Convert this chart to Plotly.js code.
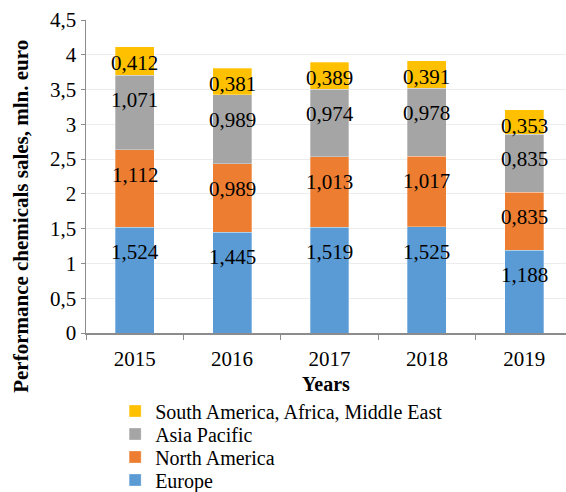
<!DOCTYPE html>
<html>
<head>
<meta charset="utf-8">
<script src="https://cdn.plot.ly/plotly-3.0.1.min.js"></script>
<style>html,body{margin:0;padding:0;background:#fff;}#chart{width:566px;height:492px;}</style>
</head>
<body>
<div id="chart"></div>
<script>
const years = ['2015', '2016', '2017', '2018', '2019'];
const europe = [1.524, 1.445, 1.519, 1.525, 1.188];
const northAmerica = [1.112, 0.989, 1.013, 1.017, 0.835];
const asiaPacific = [1.071, 0.989, 0.974, 0.978, 0.835];
const southAmericaAfricaME = [0.412, 0.381, 0.389, 0.391, 0.353];
const seriesNames = ['Europe', 'North America', 'Asia Pacific', 'South America, Africa, Middle East'];
const seriesValues = [europe, northAmerica, asiaPacific, southAmericaAfricaME];
const colors = ['#5B9BD5', '#ED7D31', '#A5A5A5', '#FFC000'];

const FONT = 'Liberation Serif, Times New Roman, serif';
const fmt = v => v.toFixed(3).replace('.', ',');
const legendIds = ['legend4', 'legend3', 'legend2', 'legend'];
const legendY = [-0.4696, -0.3962, -0.3227, -0.2492];

const traces = seriesValues.map((vals, i) => ({
  type: 'bar',
  name: seriesNames[i],
  x: years,
  y: vals,
  width: 0.4,
  legend: legendIds[i],
  marker: {color: colors[i], line: {color: 'rgba(255,255,255,0.6)', width: 0.5}},
  hoverinfo: 'x+y+name'
}));

// data labels placed below each segment's top
const annotations = [];
const cum = years.map(() => 0);
seriesValues.forEach((vals, i) => {
  vals.forEach((v, j) => {
    cum[j] += v;
    annotations.push({
      x: j, y: cum[j], xref: 'x', yref: 'y',
      text: fmt(v), showarrow: false,
      yanchor: 'middle', yshift: i === 3 ? -16 : -25,
      font: {family: FONT, size: 21, color: '#000'}
    });
  });
});
annotations.push({
  xref: 'paper', yref: 'paper', x: -0.137, y: 0.372,
  text: '<b>Performance chemicals sales, mln. euro</b>',
  textangle: -90, showarrow: false, xanchor: 'center', yanchor: 'middle',
  font: {family: FONT, size: 21, color: '#000'}
});

const layout = {
  width: 566, height: 492,
  margin: {l: 86, r: 0, t: 20, b: 159, autoexpand: false},
  paper_bgcolor: '#fff', plot_bgcolor: '#fff',
  separators: ', ',
  barmode: 'stack',
  font: {family: FONT, size: 21, color: '#000'},
  showlegend: true,
  xaxis: {
    type: 'category',
    range: [-0.5, 4.428],
    showline: true, linecolor: '#8c8c8c', linewidth: 1.5,
    ticks: 'outside', tickson: 'boundaries', ticklen: 5, tickcolor: '#8c8c8c',
    ticklabelstandoff: 6,
    showgrid: false, zeroline: false,
    tickfont: {family: FONT, size: 21},
    title: {text: '<b>Years</b>', font: {family: FONT, size: 20}, standoff: 7}
  },
  yaxis: {
    range: [0, 4.5], dtick: 0.5,
    showline: true, linecolor: '#8c8c8c', linewidth: 1.5,
    ticks: 'outside', ticklen: 4, tickcolor: '#8c8c8c',
    showgrid: true, gridcolor: '#ececec', gridwidth: 1,
    zeroline: false,
    tickfont: {family: FONT, size: 21}
  },
  annotations: annotations
};
legendIds.forEach((id, i) => {
  layout[id] = {
    orientation: 'v',
    x: 0.0607, y: legendY[i], xanchor: 'left', yanchor: 'middle',
    font: {family: FONT, size: 20, color: '#000'},
    bgcolor: 'rgba(0,0,0,0)'
  };
});

Plotly.newPlot('chart', traces, layout, {displayModeBar: false, staticPlot: true});
</script>
</body>
</html>
